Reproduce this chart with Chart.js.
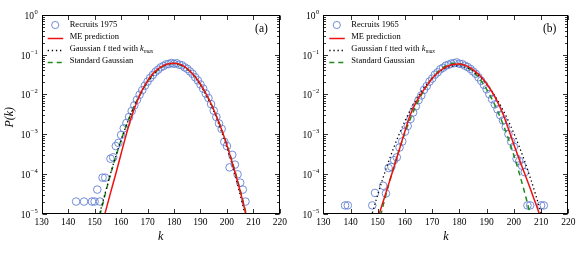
<!DOCTYPE html>
<html>
<head>
<meta charset="utf-8">
<script src="https://cdn.jsdelivr.net/npm/chart.js@4.4.0/dist/chart.umd.min.js"></script>
<style>
    body { margin: 0; background: #fff; width: 581px; height: 255px; overflow: hidden; position: relative; }
    canvas { position: absolute; top: 0; }
    #chartA { left: 0; }
    #chartB { left: 290px; }
</style>
</head>
<body>
<canvas id="chartA" width="290" height="255"></canvas>
<canvas id="chartB" width="291" height="255"></canvas>
<script>
/* axis ticks */
var decades = [1e-5, 1e-4, 1e-3, 1e-2, 1e-1, 1];
var yTickBase = '10';
var yTickExps = ['\u22125', '\u22124', '\u22123', '\u22122', '\u22121', '0'];
var xMin = 130, xMax = 220, xStep = 10;

/* panel (a): recruits 1975 */
var kA = [143, 146, 149, 150, 151, 152, 153, 154, 156, 157, 158, 159, 160, 161, 162, 163, 164, 165, 166, 167,
    168, 169, 170, 171, 172, 173, 174, 175, 176, 177, 178, 179, 180, 181, 182, 183, 184, 185, 186, 187,
    188, 189, 190, 191, 192, 193, 194, 195, 196, 197, 198, 199, 200, 201, 202, 203, 204, 205, 206, 207];
var pA = [2e-5, 2e-5, 2e-5, 2e-5, 4e-5, 2e-5, 8e-5, 8e-5, 2.4e-4, 2.6e-4, 5e-4, 6e-4, 9.5e-4, 1.4e-3, 1.9e-3, 2.7e-3, 3.8e-3, 5.3e-3, 7.3e-3, 9.8e-3,
    1.28e-2, 1.66e-2, 2.1e-2, 2.6e-2, 3.1e-2, 3.7e-2, 4.2e-2, 4.8e-2, 5.2e-2, 5.7e-2, 5.8e-2, 6.2e-2, 5.9e-2, 6.1e-2, 5.6e-2, 5.4e-2, 4.8e-2, 4.4e-2, 3.8e-2, 3.3e-2,
    2.7e-2, 2.25e-2, 1.78e-2, 1.4e-2, 1.05e-2, 8.1e-3, 5.7e-3, 3.9e-3, 2.7e-3, 1.85e-3, 1.35e-3, 6.4e-4, 5e-4, 1.45e-4, 3e-4, 1.7e-4, 9.7e-5, 6e-5, 4e-5, 2e-5];
var curveKA = [152, 154, 156, 158, 160, 162, 164, 166, 168, 170, 172, 174, 176, 178, 180,
    182, 184, 186, 188, 190, 192, 194, 196, 198, 200, 202, 204, 206, 208];
var meA = [3.5e-6, 1.05e-5, 3.3e-5, 1.0e-4, 3.2e-4, 1.0e-3, 2.8e-3, 6.5e-3, 1.3e-2, 2.2e-2, 3.3e-2, 4.4e-2, 5.3e-2, 5.9e-2, 6.1e-2,
    5.8e-2, 5.0e-2, 3.9e-2, 2.8e-2, 1.8e-2, 1.07e-2, 5.8e-3, 2.85e-3, 1.28e-3, 5.2e-4, 1.9e-4, 6.5e-5, 2.0e-5, 5.5e-6];
var fitA = [1.05e-5, 3.3e-5, 1.0e-4, 2.8e-4, 7.1e-4, 1.67e-3, 3.6e-3, 7.0e-3, 1.25e-2, 2.05e-2, 3.07e-2, 4.18e-2, 5.2e-2, 5.88e-2, 6.05e-2,
    5.66e-2, 4.84e-2, 3.76e-2, 2.66e-2, 1.71e-2, 1.0e-2, 5.3e-3, 2.58e-3, 1.13e-3, 4.5e-4, 1.65e-4, 5.4e-5, 1.6e-5, 4.4e-6];
var gaussA = [9.1e-6, 3.08e-5, 9.6e-5, 2.72e-4, 7.0e-4, 1.66e-3, 3.57e-3, 7.01e-3, 1.255e-2, 2.05e-2, 3.06e-2, 4.16e-2, 5.16e-2, 5.84e-2, 6.03e-2,
    5.68e-2, 4.89e-2, 3.83e-2, 2.74e-2, 1.79e-2, 1.06e-2, 5.78e-3, 2.86e-3, 1.29e-3, 5.33e-4, 2.01e-4, 6.9e-5, 2.15e-5, 6.2e-6];

/* panel (b): recruits 1965 */
var kB = [138, 139, 148, 149, 152, 153, 154, 155, 156, 157, 158, 159, 160, 161, 162, 163, 164, 165, 166, 167,
    168, 169, 170, 171, 172, 173, 174, 175, 176, 177, 178, 179, 180, 181, 182, 183, 184, 185, 186, 187,
    188, 189, 190, 191, 192, 193, 194, 195, 196, 197, 198, 199, 200, 201, 202, 203, 204, 205, 206, 210, 211];
var pB = [1.6e-5, 1.6e-5, 1.6e-5, 3.3e-5, 5e-5, 3.2e-5, 1.4e-4, 1.5e-4, 2.2e-4, 2.6e-4, 4.6e-4, 6.5e-4, 1.15e-3, 1.6e-3, 2.4e-3, 3.5e-3, 5.0e-3, 7.2e-3, 9.4e-3, 1.3e-2,
    1.62e-2, 2.1e-2, 2.5e-2, 3.15e-2, 3.6e-2, 4.3e-2, 4.7e-2, 5.3e-2, 5.6e-2, 6.0e-2, 6.1e-2, 6.4e-2, 5.9e-2, 5.8e-2, 5.3e-2, 4.9e-2, 4.4e-2, 3.8e-2, 3.3e-2, 2.7e-2,
    2.2e-2, 1.75e-2, 1.35e-2, 1.02e-2, 7.6e-3, 5.6e-3, 4.2e-3, 3.0e-3, 2.2e-3, 1.5e-3, 1.0e-3, 6.5e-4, 4.8e-4, 2.4e-4, 2.1e-4, 1.6e-4, 1.1e-4, 1.6e-5, 1.6e-5, 1.6e-5, 1.6e-5];
var curveKB = [146, 148, 150, 152, 154, 156, 158, 160, 162, 164, 166, 168, 170, 172, 174, 176, 178,
    180, 182, 184, 186, 188, 190, 192, 194, 196, 198, 200, 202, 204, 206, 208, 210, 212];
var meB = [3e-7, 1.3e-6, 7.0e-6, 2.0e-5, 5.5e-5, 1.5e-4, 4.2e-4, 1.2e-3, 3.1e-3, 6.2e-3, 1.05e-2, 1.65e-2, 2.5e-2, 3.45e-2, 4.45e-2, 5.25e-2, 5.75e-2,
    5.8e-2, 5.4e-2, 4.65e-2, 3.7e-2, 2.75e-2, 1.85e-2, 1.15e-2, 6.5e-3, 3.2e-3, 1.35e-3, 5.5e-4, 2.3e-4, 1.0e-4, 4.3e-5, 1.8e-5, 7.5e-6, 3e-6];
var fitB = [3.3e-6, 1.03e-5, 3.0e-5, 8.1e-5, 2.05e-4, 4.8e-4, 1.05e-3, 2.14e-3, 4.06e-3, 7.17e-3, 1.18e-2, 1.81e-2, 2.58e-2, 3.43e-2, 4.24e-2, 4.89e-2, 5.25e-2,
    5.25e-2, 4.89e-2, 4.24e-2, 3.43e-2, 2.58e-2, 1.81e-2, 1.18e-2, 7.17e-3, 4.06e-3, 2.14e-3, 1.05e-3, 4.8e-4, 2.05e-4, 8.1e-5, 3.0e-5, 1.03e-5, 3.3e-6];
var gaussB = [2.5e-7, 1.1e-6, 4.4e-6, 1.6e-5, 5.3e-5, 1.58e-4, 4.33e-4, 1.08e-3, 2.45e-3, 5.07e-3, 9.58e-3, 1.64e-2, 2.57e-2, 3.66e-2, 4.76e-2, 5.63e-2, 6.06e-2,
    5.95e-2, 5.32e-2, 4.33e-2, 3.22e-2, 2.17e-2, 1.34e-2, 7.51e-3, 3.84e-3, 1.79e-3, 7.6e-4, 2.93e-4, 1.03e-4, 3.3e-5, 9.6e-6, 2.6e-6, 6.2e-7, 1.3e-7];

var FONT = '"Liberation Serif", "Times New Roman", serif';
var CIRCLE = 'rgb(100,128,210)';
var RED = '#ee1111';
var GREEN = '#1b8c1b';

function pts(xs, ys) {
    var out = [];
    for (var i = 0; i < xs.length; i++) out.push({ x: xs[i], y: ys[i] });
    return out;
}

/* frame, inward ticks, y labels, legend, titles */
var framePlugin = {
    id: 'frame',
    afterDraw: function (chart) {
        var o = chart.options.plugins.frame;
        var ctx = chart.ctx, a = chart.chartArea, xs = chart.scales.x, ys = chart.scales.y;
        var L = Math.round(a.left) + 0.5, R = Math.round(a.right) - 0.5, T = Math.round(a.top) + 0.5, B = Math.round(a.bottom) - 0.5;
        ctx.save();
        ctx.strokeStyle = '#000';
        ctx.lineWidth = 1;
        ctx.strokeRect(L, T, R - L, B - T);
        ctx.lineWidth = 0.8;
        function seg(x1, y1, x2, y2) { ctx.beginPath(); ctx.moveTo(x1, y1); ctx.lineTo(x2, y2); ctx.stroke(); }
        for (var v = xMin; v <= xMax; v += xStep) {
            var px = Math.round(xs.getPixelForValue(v)) + 0.5;
            seg(px, B, px, B - 4.5); seg(px, T, px, T + 4.5);
        }
        ctx.fillStyle = '#000';
        ctx.textBaseline = 'alphabetic';
        decades.forEach(function (d, i) {
            var py = Math.round(ys.getPixelForValue(d)) + 0.5;
            seg(L, py, L + 4.5, py); seg(R, py, R - 4.5, py);
            if (i < decades.length - 1) {
                for (var m = 2; m <= 9; m++) {
                    var q = Math.round(ys.getPixelForValue(m * d)) + 0.5;
                    seg(L, q, L + 2.5, q); seg(R, q, R - 2.5, q);
                }
            }
            /* tick label 10^e */
            ctx.font = '6.5px ' + FONT;
            var we = ctx.measureText(yTickExps[i]).width;
            ctx.textAlign = 'right';
            ctx.fillText(yTickExps[i], a.left - 4, py - 1.5);
            ctx.font = '9.5px ' + FONT;
            ctx.fillText(yTickBase, a.left - 4 - we - 0.5, py + 3.3);
        });

        /* legend */
        var lx = a.left + 13.5, tx = a.left + 28;
        ctx.textBaseline = 'middle';
        o.rows.forEach(function (r, i) {
            var y = a.top + 10 + i * 12;
            ctx.setLineDash([]);
            if (r.kind === 'circle') {
                ctx.strokeStyle = CIRCLE; ctx.lineWidth = 0.9;
                ctx.beginPath(); ctx.arc(lx, y, 3.6, 0, Math.PI * 2); ctx.stroke();
            } else {
                ctx.strokeStyle = r.color; ctx.lineWidth = r.width;
                ctx.setLineDash(r.dash);
                seg(lx - 7.5, y + 1.5, lx + 8, y + 1.5);
                ctx.setLineDash([]);
            }
            ctx.font = '8.5px ' + FONT;
            ctx.textAlign = 'left';
            ctx.fillText(r.text, tx, y);
            if (r.sub) {
                var w = ctx.measureText(r.text).width;
                ctx.font = 'italic 8.5px ' + FONT;
                ctx.fillText('k', tx + w, y);
                var wk = ctx.measureText('k').width;
                ctx.font = 'italic 5.5px ' + FONT;
                ctx.fillText(r.sub, tx + w + wk + 0.3, y + 2.5);
            }
        });

        /* panel tag */
        ctx.font = '11.5px ' + FONT;
        ctx.textAlign = 'right';
        ctx.fillText(o.tag, a.right - 12, a.top + 14);

        /* axis titles */
        ctx.font = 'italic 12px ' + FONT;
        ctx.textAlign = 'center';
        ctx.fillText('k', (a.left + a.right) / 2, 237);
        if (o.yTitle) {
            ctx.translate(10, (a.top + a.bottom) / 2 + 3);
            ctx.rotate(-Math.PI / 2);
            ctx.fillText('P(k)', 0, 0);
        }
        ctx.restore();
    }
};

function makePanel(id, k, p, ck, me, fit, gauss, opt) {
    var tickFont = { family: FONT, size: 9.5 };
    return new Chart(document.getElementById(id), {
        type: 'line',
        data: {
            datasets: [
                { data: pts(k, p), showLine: false, pointStyle: 'circle', pointRadius: 3.8, pointBorderWidth: 0.9,
                  pointBorderColor: CIRCLE, pointBackgroundColor: 'rgba(0,0,0,0)', order: 4 },
                { data: pts(ck, me), borderColor: RED, borderWidth: 1.5, pointRadius: 0, cubicInterpolationMode: 'monotone', order: 1 },
                { data: pts(ck, fit), borderColor: '#000', borderWidth: 1.3, borderDash: [1.3, 2.8], pointRadius: 0, cubicInterpolationMode: 'monotone', order: 2 },
                { data: pts(ck, gauss), borderColor: GREEN, borderWidth: 1.5, borderDash: [5, 4], pointRadius: 0, cubicInterpolationMode: 'monotone', order: 3 }
            ]
        },
        options: {
            responsive: false,
            animation: false,
            devicePixelRatio: 1,
            layout: { padding: { top: 15, right: opt.padRight, left: 0, bottom: 0 } },
            plugins: {
                legend: { display: false },
                tooltip: { enabled: false },
                frame: {
                    tag: opt.tag,
                    yTitle: opt.yTitle,
                    rows: [
                        { kind: 'circle', text: opt.name },
                        { kind: 'line', text: 'ME prediction', color: RED, width: 1.5, dash: [] },
                        { kind: 'line', text: 'Gaussian f tted with ', sub: 'max', color: '#000', width: 1.3, dash: [1.3, 2.8] },
                        { kind: 'line', text: 'Standard Gaussian', color: GREEN, width: 1.5, dash: [5, 4] }
                    ]
                }
            },
            scales: {
                x: {
                    type: 'linear', min: xMin, max: xMax,
                    grid: { display: false, drawTicks: false, tickLength: 0 },
                    border: { display: false },
                    ticks: { stepSize: xStep, font: tickFont, color: '#000', padding: 3, maxRotation: 0, minRotation: 0, autoSkip: false },
                    afterFit: function (s) { s.height = 41.5; }
                },
                y: {
                    type: 'logarithmic', min: 1e-5, max: 1,
                    grid: { display: false, drawTicks: false, tickLength: 0 },
                    border: { display: false },
                    afterBuildTicks: function (s) { s.ticks = decades.map(function (d) { return { value: d }; }); },
                    ticks: { display: false },
                    afterFit: function (s) { s.width = opt.yWidth; }
                }
            }
        },
        plugins: [framePlugin]
    });
}

makePanel('chartA', kA, pA, curveKA, meA, fitA, gaussA,
    { name: 'Recruits 1975', tag: '(a)', yTitle: true, yWidth: 41.7, padRight: 1.7 });
makePanel('chartB', kB, pB, curveKB, meB, fitB, gaussB,
    { name: 'Recruits 1965', tag: '(b)', yTitle: false, yWidth: 33.3, padRight: 12.7 });
</script>
</body>
</html>
